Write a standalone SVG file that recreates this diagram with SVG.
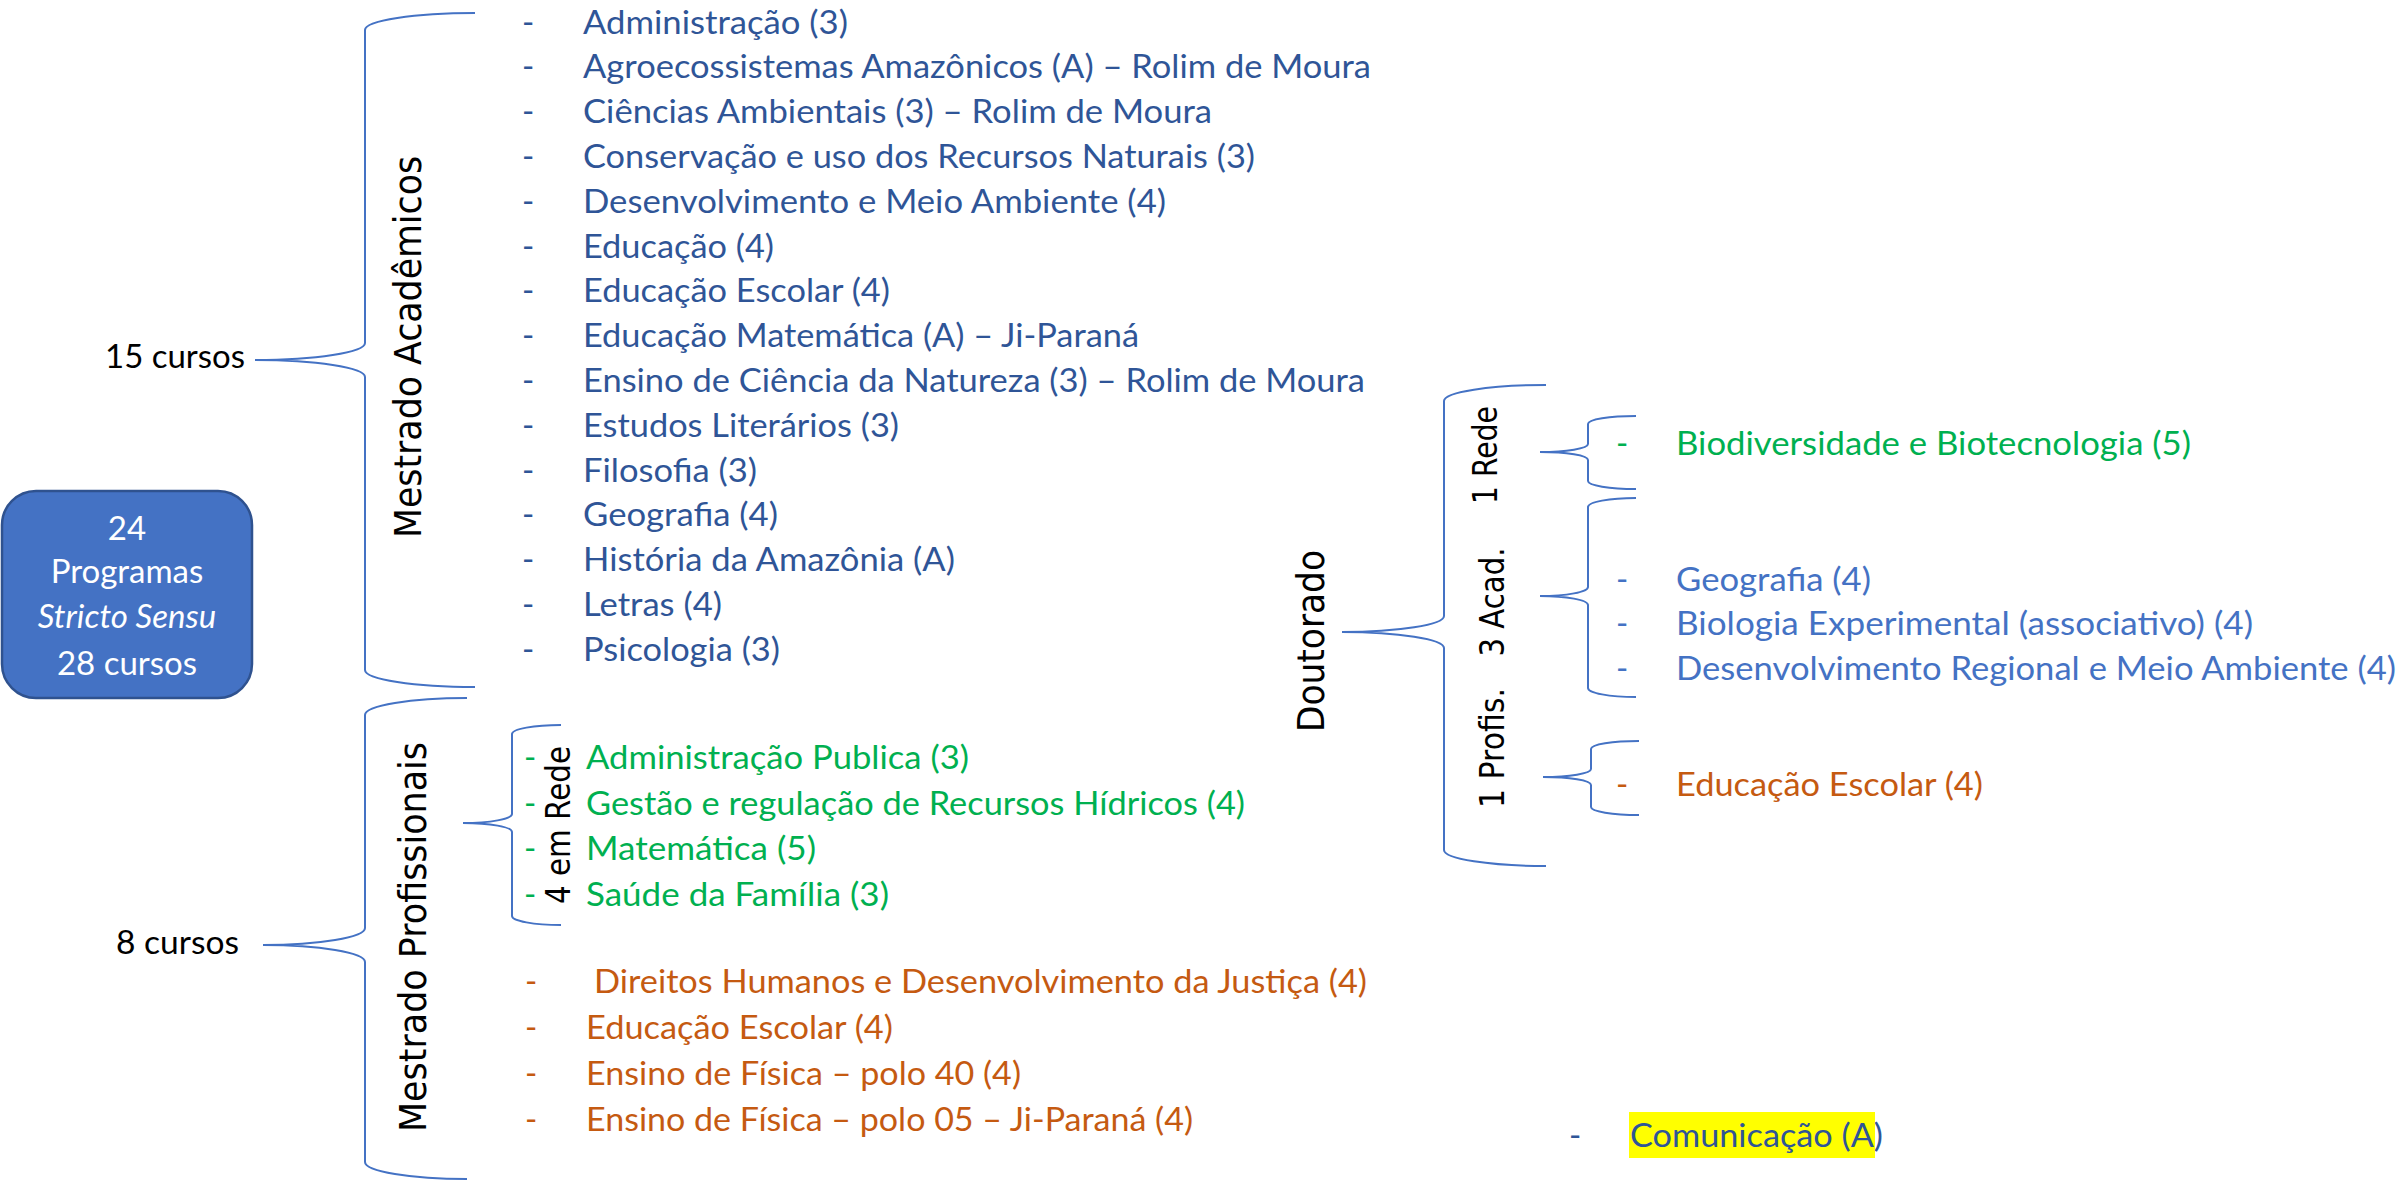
<svg xmlns="http://www.w3.org/2000/svg" width="2407" height="1182" viewBox="0 0 2407 1182">
<style>
.t{font-family:Lato,"Liberation Sans",sans-serif;font-size:33px}
.v{font-family:"DejaVu Sans",Verdana,sans-serif;fill:#000}
.blk{fill:#000}
.b{fill:#2F5597}
.lb{fill:#4472C4}
.g{fill:#00B050}
.o{fill:#C55A11}
.w{fill:#fff}
.br{fill:none;stroke:#4472C4;stroke-width:2}
</style>
<rect width="2407" height="1182" fill="#fff"/>

<g id="root">
<rect x="2" y="491" width="250" height="207" rx="34" ry="34" fill="#4472C4" stroke="#2F528F" stroke-width="2.5"/>
<text class="t w" text-anchor="middle" x="127" y="540">24</text>
<text class="t w" text-anchor="middle" x="127" y="583">Programas</text>
<text class="t w" text-anchor="middle" x="127" y="628" font-style="italic">Stricto Sensu</text>
<text class="t w" text-anchor="middle" x="127" y="675">28 cursos</text>
</g>

<g id="connectors">
<path class="br" d="M475,13 C414.3,13 365,20.6 365,30 L365,343 C365,352.4 315.7,360 255,360 C315.7,360 365,367.6 365,377 L365,670 C365,679.4 414.3,687 475,687"/>
<path class="br" d="M467,698 C410.7,698 365,705.6 365,715 L365,928 C365,937.4 319.3,945 263,945 C319.3,945 365,952.6 365,962 L365,1162 C365,1171.4 410.7,1179 467,1179"/>
<path class="br" d="M561,725 C534,725 512,729 512,734 L512,814 C512,819 490,823 463,823 C490,823 512,827 512,832 L512,916 C512,921 534,925 561,925"/>
<path class="br" d="M1546,385 C1489.7,385 1444,392.2 1444,401 L1444,616 C1444,624.8 1398.3,632 1342,632 C1398.3,632 1444,639.2 1444,648 L1444,850 C1444,858.8 1489.7,866 1546,866"/>
<path class="br" d="M1636,416 C1609.5,416 1588,419.6 1588,424 L1588,444 C1588,448.4 1566.5,452 1540,452 C1566.5,452 1588,455.6 1588,460 L1588,481 C1588,485.4 1609.5,489 1636,489"/>
<path class="br" d="M1636,498 C1609.5,498 1588,502 1588,507 L1588,587 C1588,592 1566.5,596 1540,596 C1566.5,596 1588,600 1588,605 L1588,688 C1588,693 1609.5,697 1636,697"/>
<path class="br" d="M1639,741 C1612.5,741 1591,744.6 1591,749 L1591,769 C1591,773.4 1569.5,777 1543,777 C1569.5,777 1591,780.6 1591,785 L1591,807 C1591,811.4 1612.5,815 1639,815"/>
</g>

<g id="label-15cursos"><text class="t blk" x="105" y="368" textLength="140" lengthAdjust="spacingAndGlyphs">15 cursos</text></g>
<g id="label-8cursos"><text class="t blk" x="116" y="954" textLength="123" lengthAdjust="spacingAndGlyphs">8 cursos</text></g>

<g id="mestrado-academicos">
<text class="v" font-size="37" text-anchor="middle" transform="translate(421,347) rotate(-90)" textLength="382" lengthAdjust="spacingAndGlyphs">Mestrado Acadêmicos</text>
<g class="t b">
<text x="522" y="33.5">-</text><text x="583" y="33.5" textLength="265" lengthAdjust="spacingAndGlyphs">Administração (3)</text>
<text x="522" y="78.3">-</text><text x="583" y="78.3" textLength="788" lengthAdjust="spacingAndGlyphs">Agroecossistemas Amazônicos (A) – Rolim de Moura</text>
<text x="522" y="123.1">-</text><text x="583" y="123.1" textLength="629" lengthAdjust="spacingAndGlyphs">Ciências Ambientais (3) – Rolim de Moura</text>
<text x="522" y="167.9">-</text><text x="583" y="167.9" textLength="672" lengthAdjust="spacingAndGlyphs">Conservação e uso dos Recursos Naturais (3)</text>
<text x="522" y="212.7">-</text><text x="583" y="212.7" textLength="583" lengthAdjust="spacingAndGlyphs">Desenvolvimento e Meio Ambiente (4)</text>
<text x="522" y="257.5">-</text><text x="583" y="257.5" textLength="191" lengthAdjust="spacingAndGlyphs">Educação (4)</text>
<text x="522" y="302.3">-</text><text x="583" y="302.3" textLength="307" lengthAdjust="spacingAndGlyphs">Educação Escolar (4)</text>
<text x="522" y="347.1">-</text><text x="583" y="347.1" textLength="556" lengthAdjust="spacingAndGlyphs">Educação Matemática (A) – Ji-Paraná</text>
<text x="522" y="391.9">-</text><text x="583" y="391.9" textLength="782" lengthAdjust="spacingAndGlyphs">Ensino de Ciência da Natureza (3) – Rolim de Moura</text>
<text x="522" y="436.7">-</text><text x="583" y="436.7" textLength="316" lengthAdjust="spacingAndGlyphs">Estudos Literários (3)</text>
<text x="522" y="481.5">-</text><text x="583" y="481.5" textLength="174" lengthAdjust="spacingAndGlyphs">Filosofia (3)</text>
<text x="522" y="526.3">-</text><text x="583" y="526.3" textLength="195" lengthAdjust="spacingAndGlyphs">Geografia (4)</text>
<text x="522" y="571.1">-</text><text x="583" y="571.1" textLength="372" lengthAdjust="spacingAndGlyphs">História da Amazônia (A)</text>
<text x="522" y="615.9">-</text><text x="583" y="615.9" textLength="139" lengthAdjust="spacingAndGlyphs">Letras (4)</text>
<text x="522" y="660.7">-</text><text x="583" y="660.7" textLength="197" lengthAdjust="spacingAndGlyphs">Psicologia (3)</text>
</g>
</g>

<g id="mestrado-profissionais">
<text class="v" font-size="37" text-anchor="middle" transform="translate(426,937) rotate(-90)" textLength="390" lengthAdjust="spacingAndGlyphs">Mestrado Profissionais</text>
</g>

<g id="em-rede">
<text class="v" font-size="34" text-anchor="middle" transform="translate(570,825) rotate(-90)" textLength="158" lengthAdjust="spacingAndGlyphs">4 em Rede</text>
<g class="t g">
<text x="524" y="769">-</text><text x="586" y="769" textLength="383" lengthAdjust="spacingAndGlyphs">Administração Publica (3)</text>
<text x="524" y="815">-</text><text x="586" y="815" textLength="659" lengthAdjust="spacingAndGlyphs">Gestão e regulação de Recursos Hídricos (4)</text>
<text x="524" y="860">-</text><text x="586" y="860" textLength="230" lengthAdjust="spacingAndGlyphs">Matemática (5)</text>
<text x="524" y="906">-</text><text x="586" y="906" textLength="303" lengthAdjust="spacingAndGlyphs">Saúde da Família (3)</text>
</g>
</g>

<g id="profissionais-orange">
<g class="t o">
<text x="525" y="993">-</text><text x="594" y="993" textLength="773" lengthAdjust="spacingAndGlyphs">Direitos Humanos e Desenvolvimento da Justiça (4)</text>
<text x="525" y="1039">-</text><text x="586" y="1039" textLength="307" lengthAdjust="spacingAndGlyphs">Educação Escolar (4)</text>
<text x="525" y="1085">-</text><text x="586" y="1085" textLength="435" lengthAdjust="spacingAndGlyphs">Ensino de Física – polo 40 (4)</text>
<text x="525" y="1131">-</text><text x="586" y="1131" textLength="607" lengthAdjust="spacingAndGlyphs">Ensino de Física – polo 05 – Ji-Paraná (4)</text>
</g>
</g>

<g id="doutorado">
<text class="v" font-size="37" text-anchor="middle" transform="translate(1324,641) rotate(-90)" textLength="182" lengthAdjust="spacingAndGlyphs">Doutorado</text>
</g>

<g id="dout-rede">
<text class="v" font-size="34" text-anchor="middle" transform="translate(1497,455) rotate(-90)" textLength="98" lengthAdjust="spacingAndGlyphs">1 Rede</text>
<g class="t g"><text x="1616" y="455">-</text><text x="1676" y="455" textLength="515" lengthAdjust="spacingAndGlyphs">Biodiversidade e Biotecnologia (5)</text></g>
</g>

<g id="dout-acad">
<text class="v" font-size="34" text-anchor="middle" transform="translate(1504,602) rotate(-90)" textLength="109" lengthAdjust="spacingAndGlyphs">3 Acad.</text>
<g class="t lb">
<text x="1616" y="591">-</text><text x="1676" y="591" textLength="195" lengthAdjust="spacingAndGlyphs">Geografia (4)</text>
<text x="1616" y="635">-</text><text x="1676" y="635" textLength="577" lengthAdjust="spacingAndGlyphs">Biologia Experimental (associativo) (4)</text>
<text x="1616" y="680">-</text><text x="1676" y="680" textLength="720" lengthAdjust="spacingAndGlyphs">Desenvolvimento Regional e Meio Ambiente (4)</text>
</g>
</g>

<g id="dout-profis">
<text class="v" font-size="34" text-anchor="middle" transform="translate(1504,748) rotate(-90)" textLength="120" lengthAdjust="spacingAndGlyphs">1 Profis.</text>
<g class="t o"><text x="1616" y="796">-</text><text x="1676" y="796" textLength="307" lengthAdjust="spacingAndGlyphs">Educação Escolar (4)</text></g>
</g>

<g id="comunicacao">
<rect x="1629" y="1112" width="246" height="46" fill="#FFFF00"/>
<g class="t b"><text x="1569" y="1147">-</text><text x="1630" y="1147" textLength="253" lengthAdjust="spacingAndGlyphs">Comunicação (A)</text></g>
</g>
</svg>
